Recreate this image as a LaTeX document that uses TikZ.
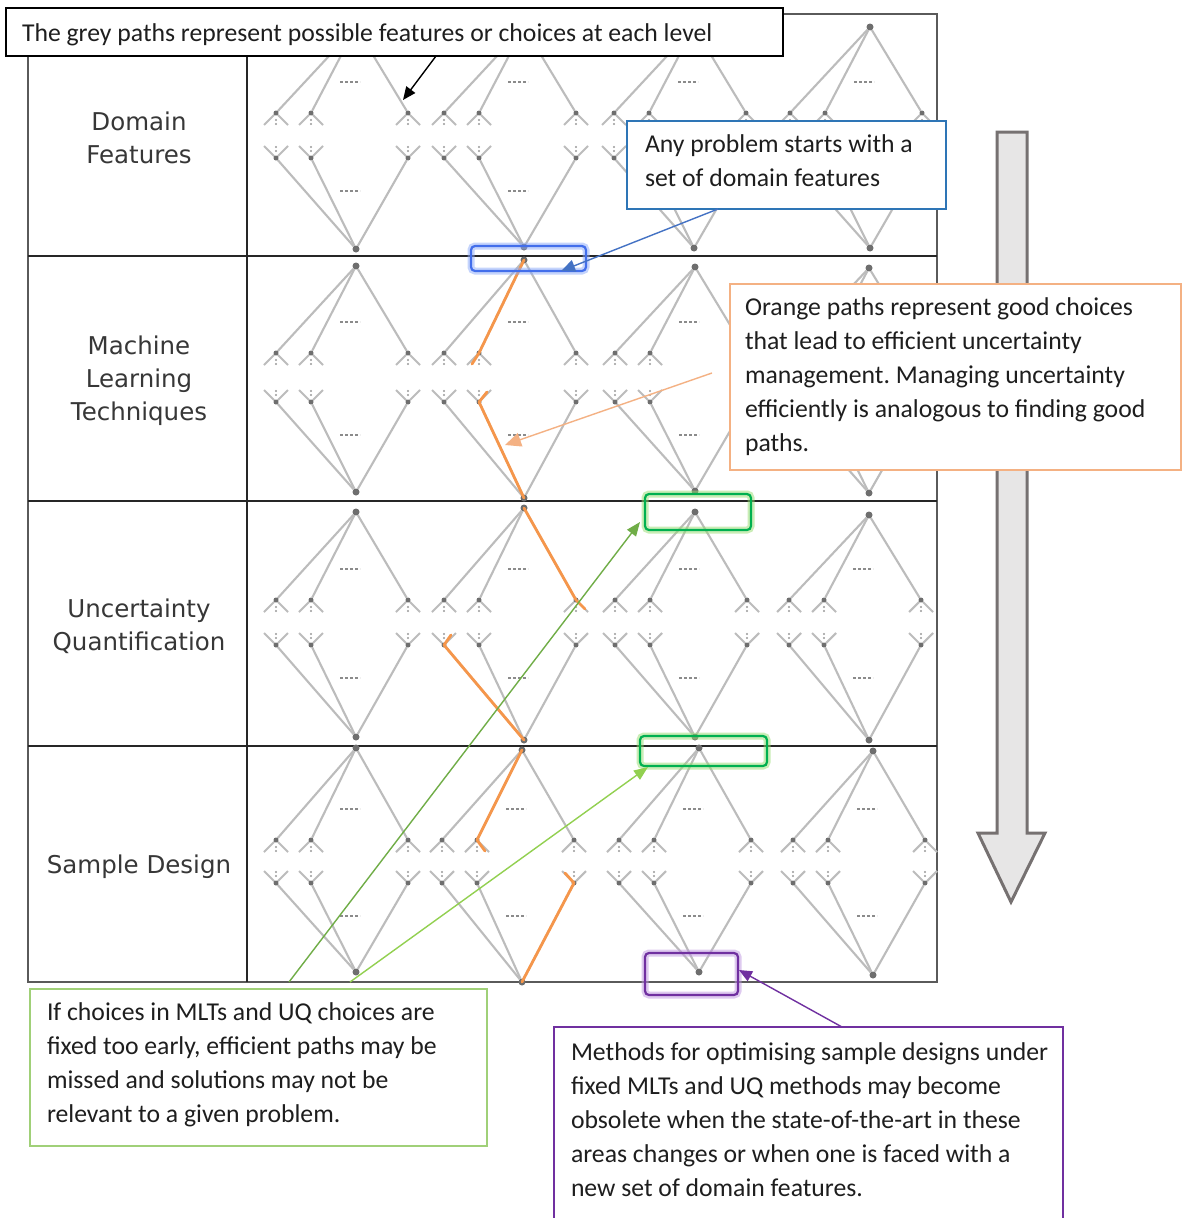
\documentclass[tikz,border=0pt]{standalone}
\usepackage{fontspec}
\setmainfont{Carlito}
\newfontfamily\lblfont{DejaVu Sans}
\usetikzlibrary{calc,arrows.meta}
\frenchspacing
\definecolor{treeC}{RGB}{188,188,188}
\definecolor{dotC}{RGB}{110,110,110}
\definecolor{orangeP}{RGB}{245,150,75}
\definecolor{hlBlue}{RGB}{66,110,235}
\definecolor{glowBlue}{RGB}{140,170,250}
\definecolor{blueC}{RGB}{46,117,182}
\definecolor{blueArr}{RGB}{68,114,196}
\definecolor{peach}{RGB}{244,177,131}
\definecolor{hlGreen}{RGB}{0,176,80}
\definecolor{glowGreen}{RGB}{150,220,110}
\definecolor{dkGreen}{RGB}{112,173,71}
\definecolor{ltGreen}{RGB}{146,208,80}
\definecolor{greenC}{RGB}{160,208,120}
\definecolor{purpleC}{RGB}{112,48,160}
\definecolor{glowPurple}{RGB}{190,150,225}
\definecolor{labelC}{RGB}{55,55,55}
\definecolor{arrowFill}{RGB}{231,230,230}
\definecolor{arrowDraw}{RGB}{118,113,113}
\definecolor{frameC}{RGB}{90,90,90}
\definecolor{textC}{RGB}{30,30,30}
\tikzset{
  treeline/.style={draw=treeC, line width=2.1},
  bigdot/.style={circle, fill=dotC, inner sep=0, minimum size=7, outer sep=0},
  kiddot/.style={circle, fill=dotC, inner sep=0, minimum size=5, outer sep=0},
  vdots/.style={fill=dotC!70},
  dashdots/.style={draw=dotC!80, line width=1.3, dash pattern=on 3 off 2},
  orangep/.style={draw=orangeP, line width=2.8, line cap=round, line join=round},
  hl/.style 2 args={draw=#1, line width=2.2, rounded corners=4, inner sep=0, outer sep=0,
     preaction={draw=#2, line width=7, opacity=0.5}},
  frame/.style={rectangle, inner sep=0, outer sep=0, fill=white, line width=1.4},
  ctext/.style={inner sep=0, outer sep=0, align=left, text=textC, font=\fontsize{25.7}{34}\selectfont},
  rowlabel/.style={inner sep=0, align=center, text=labelC, font=\lblfont\fontsize{24.5}{33}\selectfont},
  conn/.style={line width=1.4},
}
\newcommand{\mktree}[6]{%
  \node[bigdot] (#1a) at (#2,#3) {};
  \node[bigdot] (#1b) at (#2,#4) {};
  \foreach \k/\dx in {1/-80,2/-45,3/52}{
    \node[kiddot] (#1u\k) at ({#2+\dx},#5) {};
    \node[kiddot] (#1l\k) at ({#2+\dx},#6) {};
    \draw[treeline] (#1a) -- (#1u\k);
    \draw[treeline] (#1l\k) -- (#1b);
    \draw[treeline] ($(#1u\k)+(-12,12)$) -- (#1u\k) -- ($(#1u\k)+(12,12)$);
    \draw[treeline] ($(#1l\k)+(-12,-12)$) -- (#1l\k) -- ($(#1l\k)+(12,-12)$);
    \fill[vdots] ($(#1u\k)+(0,7)$) circle[radius=1.2pt] ($(#1u\k)+(0,11)$) circle[radius=1.2pt];
    \fill[vdots] ($(#1l\k)+(0,-7)$) circle[radius=1.2pt] ($(#1l\k)+(0,-11)$) circle[radius=1.2pt];
  }
  \draw[dashdots] ({#2-16},{#5-31}) -- ++(20,0);
  \draw[dashdots] ({#2-16},{#6+33}) -- ++(20,0);
}
\begin{document}
\begin{tikzpicture}[x=1pt,y=-1pt]
\useasboundingbox (0,0) rectangle (1185,1218);
\clip (0,0) rectangle (1185,1218);
\fill[white] (0,0) rectangle (1185,1218);

% table frame
\draw[draw=frameC, line width=2] (28,14) rectangle (937,982);
\draw[draw=black!85, line width=1.5] (247,14) -- (247,982);
\foreach \yy in {256,501,746}{\draw[draw=black!85, line width=1.5] (28,\yy) -- (937,\yy);}

% row labels
\node[rowlabel] (lab1) at (139,138) {Domain\\Features};
\node[rowlabel] (lab2) at (139,381) {Machine\\Learning\\Techniques};
\node[rowlabel] (lab3) at (139,626) {Uncertainty\\Quantification};
\node[rowlabel] (lab4) at (139,867) {Sample Design};

% trees
\mktree{r1t1}{356}{27}{249}{113}{158}
\mktree{r1t2}{524}{27}{247}{113}{158}
\mktree{r1t3}{694}{27}{248}{113}{158}
\mktree{r1t4}{870}{27}{248}{113}{158}
\mktree{r2t1}{356}{266}{492}{353}{402}
\mktree{r2t2}{524}{260}{498}{353}{402}
\mktree{r2t3}{695}{267}{491}{353}{402}
\mktree{r2t4}{869}{268}{493}{353}{402}
\mktree{r3t1}{356}{512}{737}{600}{645}
\mktree{r3t2}{524}{508}{740}{600}{645}
\mktree{r3t3}{695}{512}{737}{600}{645}
\mktree{r3t4}{869}{515}{740}{600}{645}
\mktree{r4t1}{356}{748}{972}{840}{883}
\mktree{r4t2}{522}{750}{982}{840}{883}
\mktree{r4t3}{699}{748}{972}{840}{883}
\mktree{r4t4}{873}{751}{975}{840}{883}

% orange paths
\draw[orangep] (r2t2a.center) -- (r2t2u2.center) -- ++(-7,11);
\draw[orangep] ($(r2t2l2)+(8,-10)$) -- (r2t2l2.center) -- (r2t2b.center);
\draw[orangep] (r3t2a.center) -- (r3t2u3.center) -- ++(9,9);
\draw[orangep] ($(r3t2l1)+(7,-10)$) -- (r3t2l1.center) -- (r3t2b.center);
\draw[orangep] (r4t2a.center) -- (r4t2u2.center) -- ++(8,11);
\draw[orangep] ($(r4t2l3)+(-9,-10)$) -- (r4t2l3.center) -- (r4t2b.center);

% highlight boxes
\node[hl={hlBlue}{glowBlue}, minimum width=115, minimum height=25] (hlb) at (528.5,258.5) {};
\node[hl={hlGreen}{glowGreen}, minimum width=106, minimum height=36] (hlg1) at (698,512) {};
\node[hl={hlGreen}{glowGreen}, minimum width=127, minimum height=30] (hlg2) at (703.5,751) {};
\node[hl={purpleC}{glowPurple}, minimum width=93, minimum height=42] (hlp) at (691.5,974) {};

% big arrow
\draw[fill=arrowFill, draw=arrowDraw, line width=3, line join=miter]
  (997,132) -- (1027,132) -- (1027,833) -- (1045,833) -- (1011,902) -- (978,833) -- (997,833) -- cycle;

% callouts
\node[frame, draw=blueC, minimum width=319, minimum height=88, anchor=north west] (bluebox) at (627,121) {};
\node[ctext, anchor=north west] (bluetext) at (645,135) {Any problem starts with a\\set of domain features};

\node[frame, draw=peach, minimum width=451, minimum height=186, anchor=north west] (orbox) at (730,284) {};
\node[ctext, anchor=north west] (ortext) at (745,298) {Orange paths represent good choices\\that lead to efficient uncertainty\\management. Managing uncertainty\\efficiently is analogous to finding good\\paths.};

\node[frame, draw=greenC, minimum width=457, minimum height=157, anchor=north west] (grbox) at (30,989) {};
\node[ctext, anchor=north west] (grtext) at (47,1003) {If choices in MLTs and UQ choices are\\fixed too early, efficient paths may be\\missed and solutions may not be\\relevant to a given problem.};

\fill[white] (554,1027) rectangle (1063,1240);
\draw[draw=purpleC, line width=1.4] (554,1240) -- (554,1027) -- (1063,1027) -- (1063,1240);
\coordinate (pubox) at (842,1027);
\node[ctext, anchor=north west] (putext) at (571,1043) {Methods for optimising sample designs under\\fixed MLTs and UQ methods may become\\obsolete when the state-of-the-art in these\\areas changes or when one is faced with a\\new set of domain features.};

% top label
\node[frame, draw=black, line width=1.5, minimum width=777, minimum height=48, anchor=north west] (topbox) at (6,8) {};
\node[ctext, anchor=west] (toptext) at (22,35) {The grey paths represent possible features or choices at each level};

% connectors
\coordinate (blkend) at (403,100);
\draw[conn, draw=black, -{Triangle[length=13pt,width=11pt]}] ($(topbox.south west)+(430,0)$) -- (blkend);
\draw[conn, draw=blueArr, -{Triangle[length=14pt,width=12pt]}] ($(bluebox.south west)+(91,0)$) -- (hlb.-21);
\coordinate (orstart) at (712,373);
\draw[conn, draw=peach, -{Triangle[length=16pt,width=14pt]}] (orstart) -- (505,445);
\coordinate (g1start) at (289,982);
\coordinate (g2start) at (350,982);
\draw[conn, draw=dkGreen, -{Triangle[length=14pt,width=11pt]}] (g1start) -- ($(hlg1.south west)+(-5,-8)$);
\draw[conn, draw=ltGreen, -{Triangle[length=14pt,width=11pt]}] (g2start) -- ($(hlg2.south west)+(8,1)$);
\draw[conn, draw=purpleC, -{Triangle[length=13pt,width=11pt]}] (pubox) -- ($(hlp.east)+(1,-4)$);
\end{tikzpicture}
\end{document}
